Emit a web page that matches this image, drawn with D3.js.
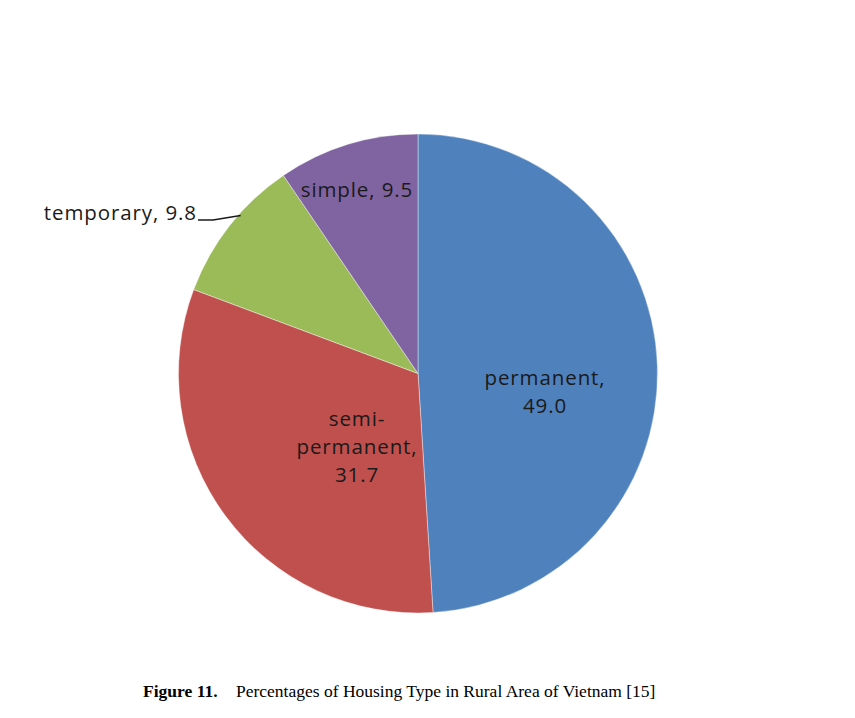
<!DOCTYPE html>
<html><head><meta charset="utf-8">
<script src="https://cdn.jsdelivr.net/npm/d3@7"></script>
<style>body{margin:0;background:#fff}</style>
</head><body>
<svg id="c" width="855" height="718"></svg>
<script>
const categories = ["permanent", "semi-permanent", "temporary", "simple"];
const values = [49.0, 31.7, 9.8, 9.5];
const colors = ["#4F81BD", "#C0504D", "#9BBB59", "#8064A2"];
const labelLines = [["permanent,", "49.0"], ["semi-", "permanent,", "31.7"], ["temporary, 9.8"], ["simple, 9.5"]];

const svg = d3.select("#c");
const cx = 418, cy = 373.5, R = 239.5;
const data = categories.map((c, i) => ({cat: c, value: values[i], color: colors[i], lines: labelLines[i]}));
const pie = d3.pie().value(d => d.value).sort(null);
const arcs = pie(data);
const arc = d3.arc().innerRadius(0).outerRadius(R);
const g = svg.append("g").attr("transform", `translate(${cx},${cy})`);
g.selectAll("path").data(arcs).enter().append("path")
  .attr("d", arc).attr("fill", d => d.data.color)
  .attr("stroke", "#fff").attr("stroke-width", 0.4);

const font = "'Open Sans', Lato, sans-serif";
const labelPos = [
  {x: 545, y: 377, anchor: "middle"},
  {x: 357, y: 418, anchor: "middle"},
  {x: 197, y: 212, anchor: "end"},
  {x: 357, y: 189, anchor: "middle"}
];
const lh = 28;
arcs.forEach((a, i) => {
  const p = labelPos[i];
  const t = svg.append("text").attr("text-anchor", p.anchor)
    .attr("font-family", font).attr("font-size", 20.5).attr("fill", "#1a1a1a")
    .attr("letter-spacing", 0.9)
    .attr("dominant-baseline", "central");
  a.data.lines.forEach((l, j) => {
    t.append("tspan").attr("x", p.x).attr("y", p.y + j * lh).text(l);
  });
});
const tmp = arcs[2];
const edgeAng = tmp.startAngle + (tmp.endAngle - tmp.startAngle) * 0.6;
const ex = cx + (R - 2) * Math.sin(edgeAng), ey = cy - (R - 2) * Math.cos(edgeAng);
svg.append("path").attr("d", `M198,220 L213,220 L${ex},${ey}`)
  .attr("fill", "none").attr("stroke", "#1a1a1a").attr("stroke-width", 1.4);

const cap = svg.append("text").attr("x", 143).attr("y", 697)
  .attr("font-family", "'Liberation Serif', 'Times New Roman', serif").attr("font-size", 17.5).attr("fill", "#000");
cap.append("tspan").attr("font-weight", "bold").text("Figure 11.");
cap.append("tspan").attr("x", 236).text("Percentages of Housing Type in Rural Area of Vietnam [15]");
</script>
</body></html>
